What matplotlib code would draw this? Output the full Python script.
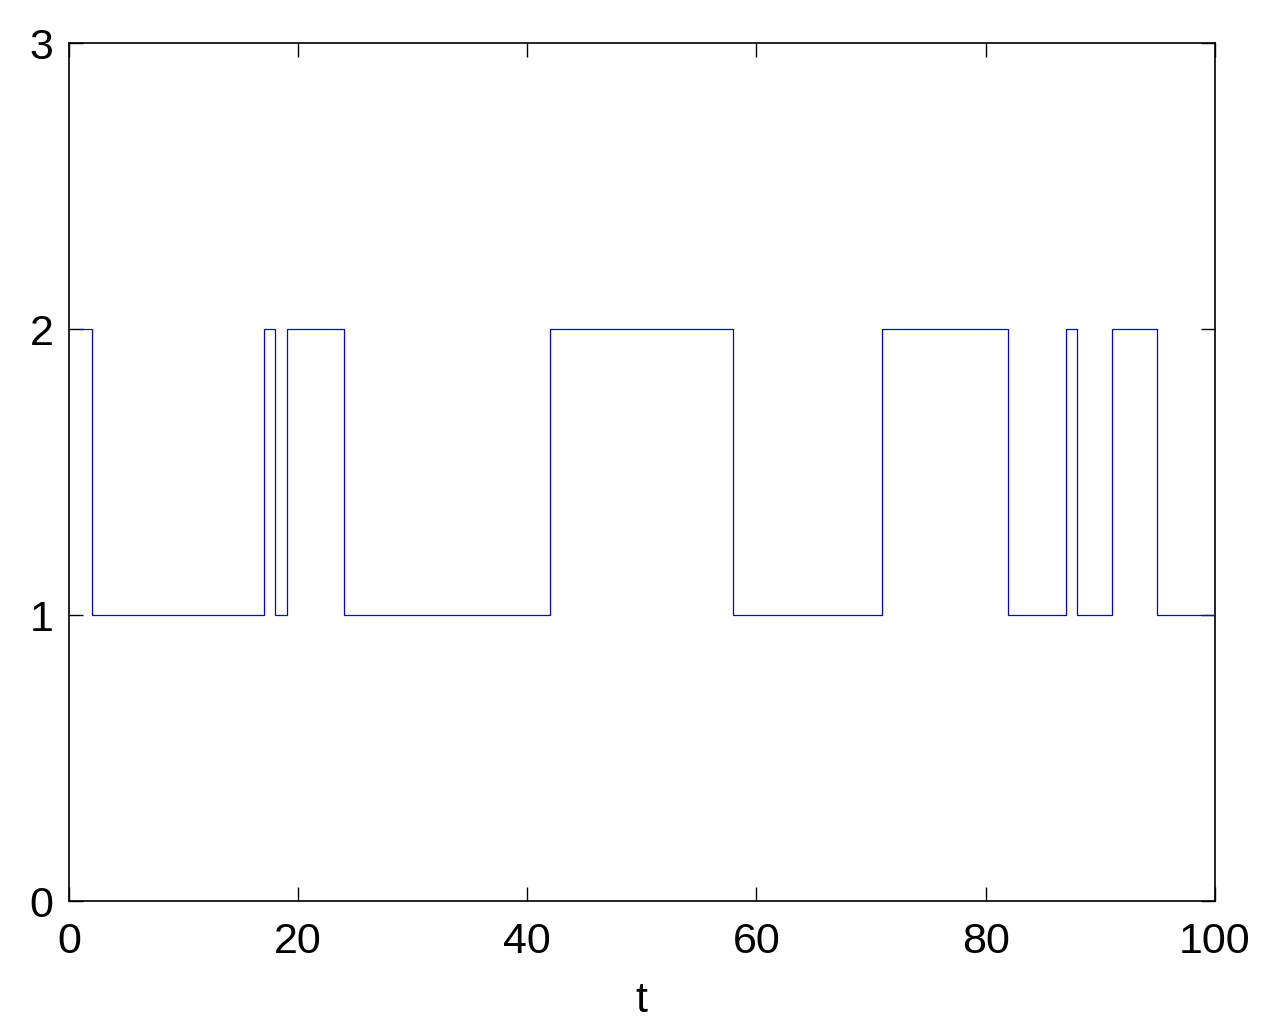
import matplotlib
matplotlib.use('Agg')
import matplotlib.pyplot as plt

# Моменты переключения и значения состояния
t_edges = [1, 2, 17, 18, 19, 24, 42, 58, 71, 82, 87, 88, 91, 95, 100]
state = [2, 1, 2, 1, 2, 1, 2, 1, 2, 1, 2, 1, 2, 1]

x_ticks = [0, 20, 40, 60, 80, 100]
y_ticks = [0, 1, 2, 3]

plt.rcParams['font.family'] = ['Liberation Sans', 'DejaVu Sans']

fig = plt.figure(figsize=(12.76, 10.31), dpi=100)
ax = fig.add_axes([0.054, 0.126, 0.898, 0.832])

ax.stairs(state, t_edges, color='blue', linewidth=0.9, baseline=None,
          zorder=3)

ax.set_xlim(0, 100)
ax.set_ylim(0, 3)
ax.set_xticks(x_ticks)
ax.set_yticks(y_ticks)
ax.tick_params(direction='in', length=10, width=1, top=True, right=True,
               labelsize=31)
ax.tick_params(axis='x', pad=15)
ax.tick_params(axis='y', pad=11)
for s in ax.spines.values():
    s.set_linewidth(1.2)
ax.set_xlabel('t', fontsize=31, labelpad=14)

fig.savefig('out.png', dpi=100)
